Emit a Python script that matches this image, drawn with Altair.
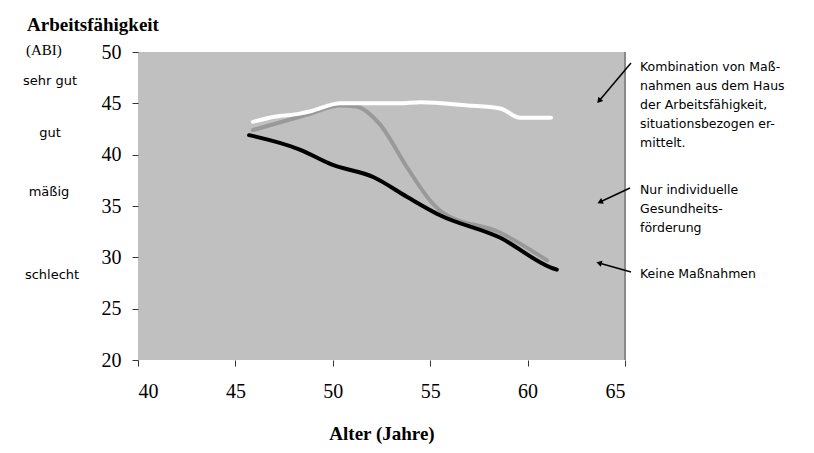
import altair as alt
import pandas as pd

# ---- data ----
ages_combo = [45.9, 47.0, 48.3, 48.8, 50.4, 52.0, 53.4, 54.5, 56.9, 58.6, 59.6, 61.2]
vals_combo = [43.2, 43.7, 44.0, 44.2, 45.0, 45.0, 45.0, 45.1, 44.8, 44.5, 43.6, 43.6]

ages_indiv = [45.9, 48.7, 50.4, 51.2, 52.4, 53.8, 55.1, 55.6, 58.6, 61.0]
vals_indiv = [42.4, 43.9, 44.8, 44.7, 43.0, 38.8, 35.3, 34.4, 32.4, 29.7]

ages_none = [45.7, 48.3, 50.0, 52.1, 53.8, 55.5, 58.6, 61.2, 61.5]
vals_none = [41.9, 40.5, 39.0, 37.8, 35.9, 34.1, 31.9, 29.0, 28.8]

x_ticks = [40, 45, 50, 55, 60, 65]
y_ticks = [20, 25, 30, 35, 40, 45, 50]

title_text = "Arbeitsfähigkeit"
abi_text = "(ABI)"
x_title = "Alter (Jahre)"
level_labels = ["sehr gut", "gut", "mäßig", "schlecht"]
note_combo = "Kombination von Maß-\nnahmen aus dem Haus\nder Arbeitsfähigkeit,\nsituationsbezogen er-\nmittelt."
note_indiv = "Nur individuelle\nGesundheits-\nförderung"
note_none = "Keine Maßnahmen"

df_combo = pd.DataFrame({"Alter": ages_combo, "ABI": vals_combo})
df_indiv = pd.DataFrame({"Alter": ages_indiv, "ABI": vals_indiv})
df_none = pd.DataFrame({"Alter": ages_none, "ABI": vals_none})

W, H = 487, 308
SERIF = "Liberation Serif"
SANS = "DejaVu Sans"

xs = alt.Scale(domain=[40, 65], nice=False, zero=False)
ys = alt.Scale(domain=[20, 50], nice=False, zero=False)

xax = alt.Axis(values=x_ticks, title=x_title, domain=False, grid=False, tickColor="#333333",
               tickSize=6, labelFont=SERIF, labelFontSize=20, labelColor="black", labelPadding=15,
               titleFont=SERIF, titleFontSize=19, titleFontWeight="bold", titleColor="black",
               titlePadding=23)
yax = alt.Axis(values=y_ticks, title="", domain=False, grid=False, tickColor="#333333",
               tickSize=6, labelFont=SERIF, labelFontSize=20, labelColor="black", labelPadding=11)


def series(df, color):
    return alt.Chart(df).mark_line(color=color, strokeWidth=4, interpolate="monotone",
                                   strokeCap="round").encode(
        x=alt.X("Alter:Q", scale=xs, axis=xax),
        y=alt.Y("ABI:Q", scale=ys, axis=yax),
    )


gray_line = series(df_indiv, "#999999")
white_line = series(df_combo, "#FFFFFF")
black_line = series(df_none, "#000000")

base = alt.Chart(pd.DataFrame({"a": [0]}))

right_border = base.mark_rule(color="#8a8a8a", strokeWidth=2).encode(
    x=alt.datum(65, scale=xs), y=alt.datum(50, scale=ys), y2=alt.datum(20))


def txt(text, x, y, font=SANS, size=12.5, weight="normal", align="left"):
    return base.mark_text(text=text, font=font, fontSize=size, fontWeight=weight, align=align,
                          baseline="middle", color="black", lineBreak="\n", lineHeight=19).encode(
        x=alt.value(x), y=alt.value(y))


texts = [
    txt(title_text, -111, -27, font=SERIF, size=19, weight="bold"),
    txt(abi_text, -112, -2, font=SERIF, size=15),
    txt(level_labels[0], -88, 29, size=13, align="center"),
    txt(level_labels[1], -88, 81, size=13, align="center"),
    txt(level_labels[2], -89, 140, size=13, align="center"),
    txt(level_labels[3], -86, 223, size=13, align="center"),
    txt(note_combo, 502, 15),
    txt(note_indiv, 502, 138),
    txt(note_none, 502, 222),
]

arrows = []
for (x1, y1, x2, y2, ang) in [(493, 11, 461, 49, 220), (492, 136, 462, 150, 245), (493, 220, 461, 211, 286)]:
    arrows.append(base.mark_rule(color="black", strokeWidth=1.5).encode(
        x=alt.value(x1), y=alt.value(y1), x2=alt.value(x2), y2=alt.value(y2)))
    arrows.append(base.mark_point(shape="triangle-up", filled=True, color="black", size=40,
                                  angle=ang, opacity=1).encode(
        x=alt.value(x2), y=alt.value(y2)))

chart = alt.layer(gray_line, white_line, black_line, right_border, *arrows, *texts).properties(
    width=W, height=H,
    padding={"left": 130, "top": 44, "right": 175, "bottom": 92},
    autosize=alt.AutoSizeParams(type="none"),
    background="white",
).configure_view(fill="#C0C0C0", strokeWidth=0)

chart.save("out.html", embed_options={"renderer": "svg", "actions": False})
